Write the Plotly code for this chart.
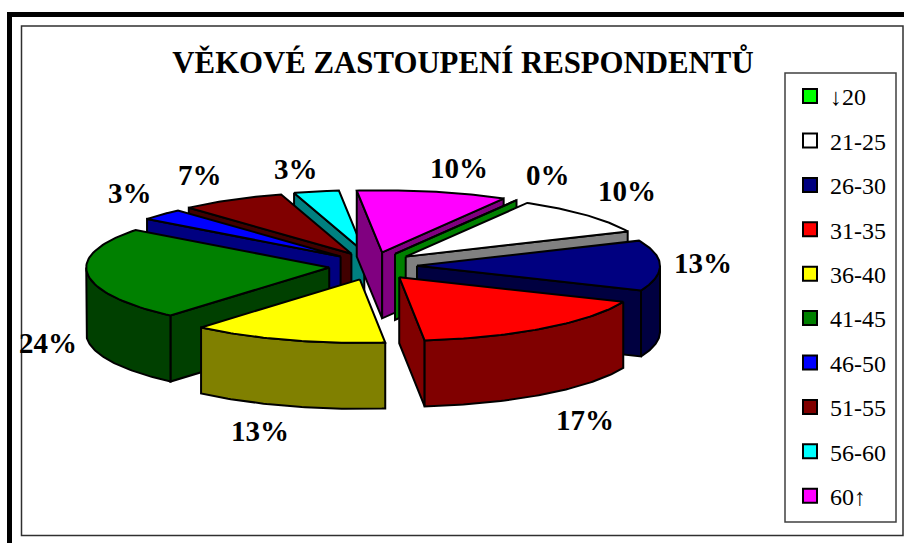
import numpy as np
import plotly.graph_objects as go

title = "VĚKOVÉ ZASTOUPENÍ RESPONDENTŮ"
categories = ["↓20", "21-25", "26-30", "31-35", "36-40", "41-45", "46-50", "51-55", "56-60", "60↑"]
percent = [0, 10, 13, 17, 13, 24, 3, 7, 3, 10]
top_colors = ["#00FF00", "#FFFFFF", "#000080", "#FF0000", "#FFFF00", "#008000", "#0000FF", "#800000", "#00FFFF", "#FF00FF"]
wall_colors = ["#008000", "#808080", "#000040", "#800000", "#808000", "#004000", "#000080", "#400000", "#008080", "#800080"]

# where the percentage labels sit, in page pixels
label_x = [548, 627, 703, 585, 260, 48, 130, 200, 296, 459]
label_y = [175, 191, 263, 420, 431, 343, 193, 175, 169, 168]

# 3d pie projection, the far half looks a little flatter than the near half
start_angle = 30
cx, cy = 373, 266
rx = 243
ry_back, ry_front = 62, 63.5
explode_x, explode_y = 44, 14
depth = 66
edge = dict(color="black", width=2)


def rim(ax, ay, angle):
    a = np.radians(angle)
    c = np.cos(a)
    return ax + rx * np.sin(a), ay - np.where(c > 0, ry_back, ry_front) * c


def add_poly(fig, xs, ys, color):
    fig.add_trace(go.Scatter(x=xs, y=ys, mode="lines", fill="toself", fillcolor=color,
                             line=edge, hoverinfo="skip", showlegend=False))


def draw_slice(fig, a0, a1, top, wall):
    mid = np.radians((a0 + a1) / 2)
    ax = cx + explode_x * np.sin(mid)
    ay = cy - explode_y * np.cos(mid)

    # radial walls, only those turned towards the viewer
    for angle, sign in ((a0, -1), (a1, 1)):
        if sign * np.sin(np.radians(angle)) > 0:
            ex, ey = rim(ax, ay, angle)
            ex, ey = float(ex), float(ey)
            add_poly(fig, [ax, ex, ex, ax, ax], [ay, ey, ey + depth, ay + depth, ay], wall)

    # curved outer wall, front half of the ellipse only
    lo, hi = max(a0, 90), min(a1, 270)
    if hi > lo:
        arc = np.linspace(lo, hi, 60)
        ex, ey = rim(ax, ay, arc)
        add_poly(fig, np.r_[ex, ex[::-1], ex[0]], np.r_[ey, ey[::-1] + depth, ey[0]], wall)

    # top face
    arc = np.linspace(a0, a1, 60)
    ex, ey = rim(ax, ay, arc)
    add_poly(fig, np.r_[ax, ex, ax], np.r_[ay, ey, ay], top)


fig = go.Figure()

edges = start_angle + np.cumsum([0] + [p * 3.6 for p in percent])
mids = (edges[:-1] + edges[1:]) / 2
# paint from the back of the pie to the front
for i in sorted(range(len(percent)), key=lambda k: -np.cos(np.radians(mids[k]))):
    draw_slice(fig, edges[i], edges[i + 1], top_colors[i], wall_colors[i])

# legend entries, each in its own group so the gap can be opened up
for name, color in zip(categories, top_colors):
    fig.add_trace(go.Scatter(x=[None], y=[None], mode="markers", name=name, legendgroup=name,
                             marker=dict(symbol="square", size=14, color=color,
                                         line=dict(color="black", width=2))))

for x, y, p in zip(label_x, label_y, percent):
    fig.add_annotation(x=x, y=y, text=f"<b>{p}%</b>", showarrow=False,
                       font=dict(family="Liberation Serif", size=29, color="black"))

fig.update_xaxes(range=[0, 904], visible=False, fixedrange=True)
fig.update_yaxes(range=[543, 0], visible=False, fixedrange=True)

fig.update_layout(
    width=904,
    height=543,
    margin=dict(l=0, r=0, t=0, b=0, autoexpand=False),
    paper_bgcolor="white",
    plot_bgcolor="white",
    font=dict(family="Liberation Serif", color="black"),
    title=dict(text=f"<b>{title}</b>", x=463 / 904, xanchor="center", y=1 - 62 / 543, yanchor="middle",
               font=dict(family="Liberation Serif", size=30.8, color="black")),
    legend=dict(x=790 / 904, xanchor="left", y=1 - 74 / 543, yanchor="top",
                borderwidth=0, bgcolor="rgba(0,0,0,0)",
                font=dict(family="Liberation Serif", size=24),
                tracegroupgap=10.2, itemwidth=30, entrywidth=70, itemclick=False, itemdoubleclick=False),
    shapes=[
        dict(type="rect", xref="x", yref="y", x0=9.5, y0=14.5, x1=920, y1=560,
             line=dict(color="black", width=5), layer="below"),
        dict(type="rect", xref="x", yref="y", x0=21.5, y0=26, x1=903, y1=535.5,
             line=dict(color="#303030", width=1.5), layer="below"),
        dict(type="rect", xref="x", yref="y", x0=785, y0=73, x1=896, y1=522,
             line=dict(color="#404040", width=1.5), layer="below"),
    ],
)

fig.write_html("out.html", config={"displayModeBar": False},
               post_script="document.body.style.margin='0';")
